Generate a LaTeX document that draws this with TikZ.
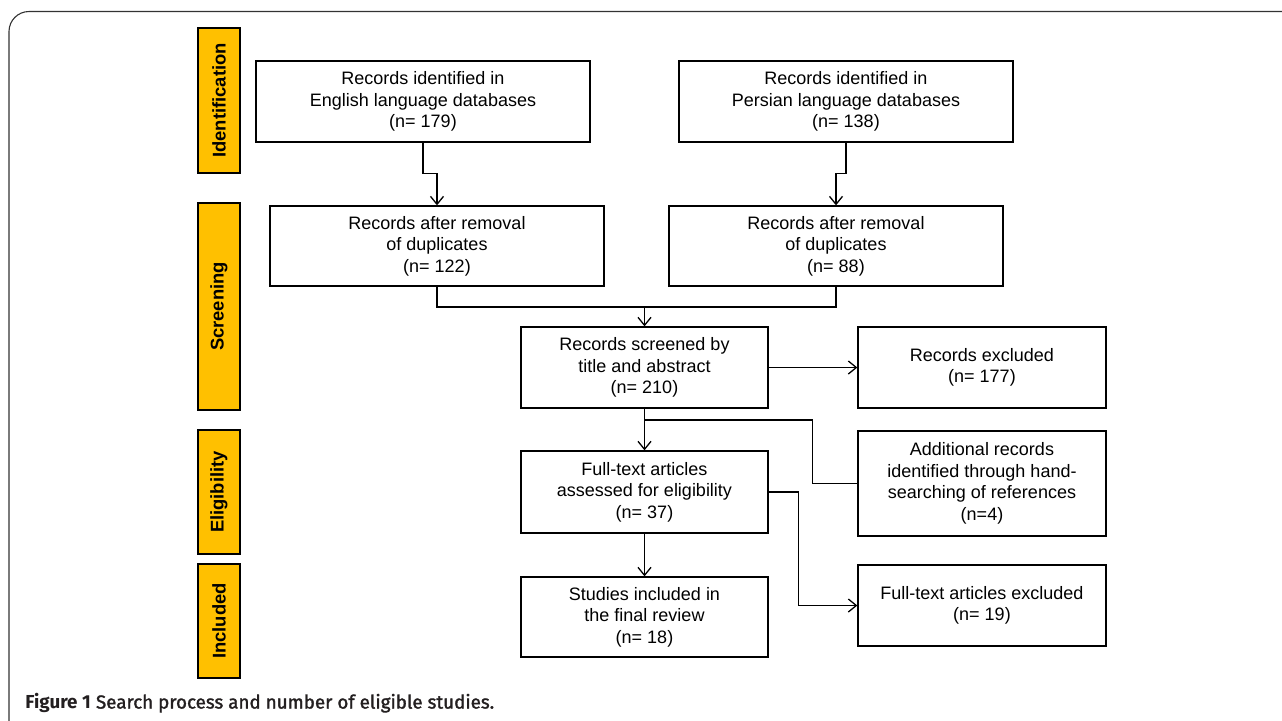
\documentclass[tikz,border=0pt]{standalone}
\usepackage{fontspec}
\setmainfont{Liberation Sans}
\newfontfamily\capfont{Fira Sans}
\newfontfamily\capmedfont{Fira Sans}[FakeBold=1.6]
\usetikzlibrary{arrows.meta}

\definecolor{phaseorange}{HTML}{FFC000}
\definecolor{capgray}{HTML}{231F20}

\tikzset{
  box/.style={draw, line width=0.65pt, align=center, inner sep=0pt,
    font=\fontsize{9}{10.75}\selectfont},
  phase/.style={draw, line width=0.75pt, fill=phaseorange, rotate=90, inner sep=0pt,
    minimum height=21pt, font=\fontsize{9.2}{11}\selectfont\bfseries},
  arr/.style={line width=0.65pt, -{Straight Barb[length=4pt,width=6.5pt]}},
  lnk/.style={line width=0.65pt}
}

\begin{document}
\begin{tikzpicture}[x=0.5pt, y=-0.5pt]
    \useasboundingbox (0,0) rectangle (1282,720);
    \clip (0,0) rectangle (1282,720);

    % Outer frame
    \draw[line width=0.55pt, black!80, rounded corners=10pt] (9,11.5) rectangle (1320,760);

    % Phase labels
    \node[phase, minimum width=72.5pt] (ident) at (219,100.5) {Identification};
    \node[phase, minimum width=103.5pt] (scr) at (219,306.5) {Screening};
    \node[phase, minimum width=62pt] (elig) at (219,492) {Eligibility};
    \node[phase, minimum width=57pt] (incd) at (219,621) {Included};

    % Boxes
    \node[box, minimum width=167pt, minimum height=40.5pt] (eng) at (423,101.5)
      {Records identified in\\English language databases\\(n= 179)};
    \node[box, minimum width=167pt, minimum height=40.5pt] (per) at (846,101.5)
      {Records identified in\\Persian language databases\\(n= 138)};
    \node[box, minimum width=167pt, minimum height=40pt] (engdup) at (437,246)
      {Records after removal\\of duplicates\\(n= 122)};
    \node[box, minimum width=167pt, minimum height=40pt] (perdup) at (836,246)
      {Records after removal\\of duplicates\\(n= 88)};
    \node[box, minimum width=123.5pt, minimum height=40.5pt] (screen) at (644.5,367.5)
      {Records screened by\\title and abstract\\(n= 210)};
    \node[box, minimum width=124pt, minimum height=40.5pt] (excl) at (982,367.5)
      {Records excluded\\(n= 177)};
    \node[box, minimum width=123.5pt, minimum height=41pt] (full) at (644.5,492)
      {Full-text articles\\assessed for eligibility\\(n= 37)};
    \node[box, minimum width=124pt, minimum height=52.5pt] (add) at (982,483.5)
      {Additional records\\identified through hand-\\searching of references\\(n=4)};
    \node[box, minimum width=123.5pt, minimum height=40pt] (incl) at (644.5,617)
      {Studies included in\\the final review\\(n= 18)};
    \node[box, minimum width=124pt, minimum height=40.5pt] (ftexcl) at (982,605.5)
      {Full-text articles excluded\\(n= 19)};

    % Junctions
    \coordinate (merge) at (644.5,307);
    \coordinate (join) at (644.5,420);

    % Connectors
    \draw[arr] (eng.south) -- ++(0,31) -| (engdup.north);
    \draw[arr] (per.south) -- ++(0,31) -| (perdup.north);
    \draw[lnk] (engdup.south) |- (merge) -| (perdup.south);
    \draw[arr] (merge) -- (screen.north);
    \draw[arr] (screen.east) -- (excl.west);
    \draw[arr] (screen.south) -- (full.north);
    \draw[lnk] (add.west) -- ++(-45,0) |- (join);
    \draw[arr] (full.south) -- (incl.north);
    \draw[arr] (full.east) -- ++(30,0) |- (ftexcl.west);

    % Caption
    \node[anchor=west, inner sep=0pt, text=capgray, font=\fontsize{9.4}{11}\selectfont] (cap) at (25,703)
      {{\capfont\bfseries Figure 1} {\capmedfont Search process and number of eligible studies.}};
\end{tikzpicture}
\end{document}
